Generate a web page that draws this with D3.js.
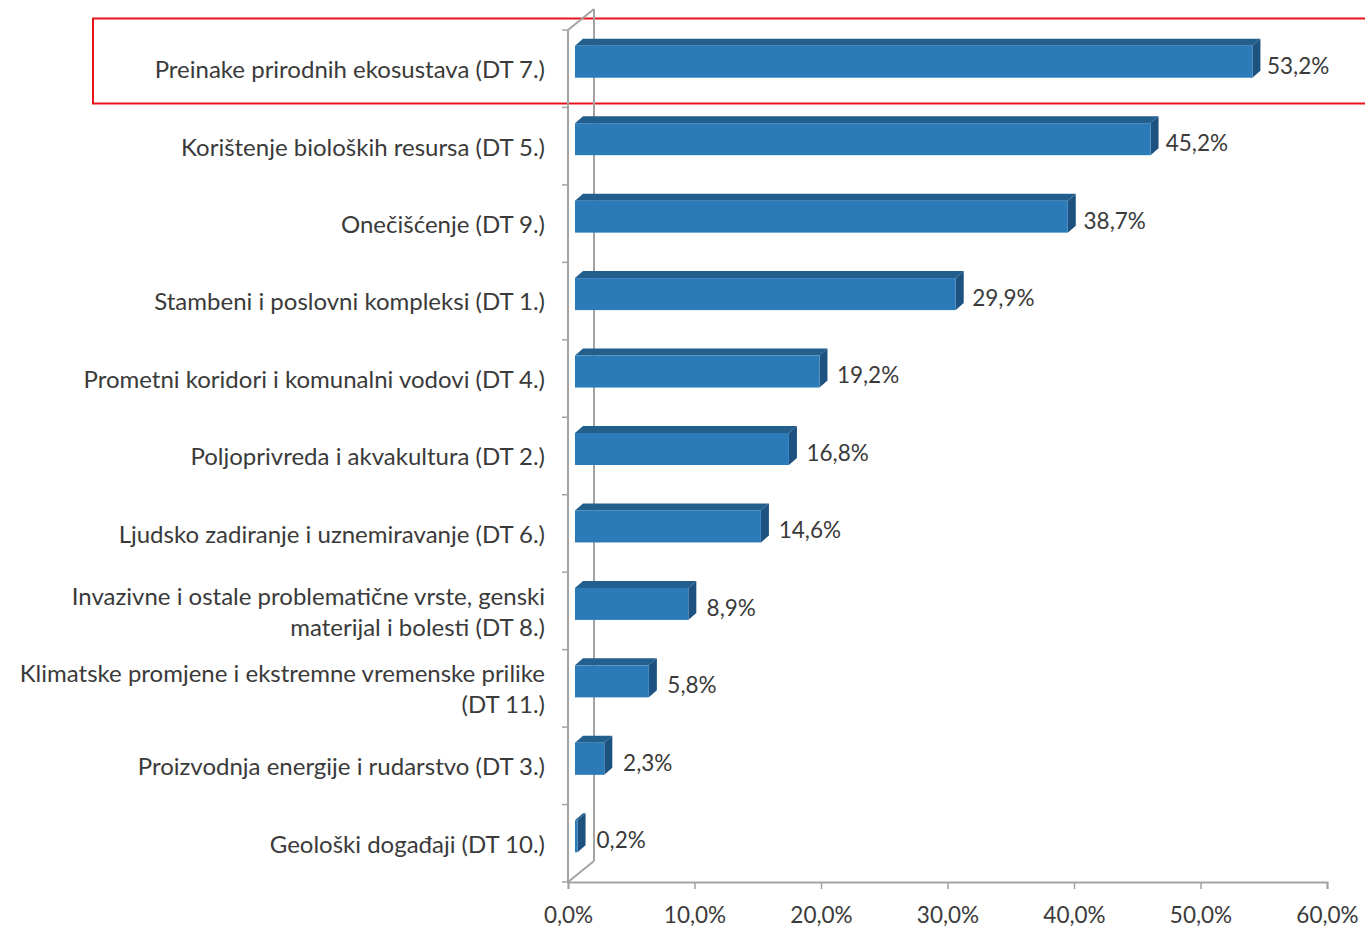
<!DOCTYPE html>
<html>
<head>
<meta charset="utf-8">
<script src="https://cdn.jsdelivr.net/npm/d3@7/dist/d3.min.js"></script>
<style>
  html, body { margin: 0; padding: 0; background: #fff; }
  svg { display: block; }
  text { font-family: Lato, "Open Sans", sans-serif; fill: #3a3a3a; }
</style>
</head>
<body>
<svg id="chart" width="1365" height="929"></svg>
<script>
// ---- data ----
const categories = [
  ["Preinake prirodnih ekosustava (DT 7.)"],
  ["Korištenje bioloških resursa (DT 5.)"],
  ["Onečišćenje (DT 9.)"],
  ["Stambeni i poslovni kompleksi (DT 1.)"],
  ["Prometni koridori i komunalni vodovi (DT 4.)"],
  ["Poljoprivreda i akvakultura (DT 2.)"],
  ["Ljudsko zadiranje i uznemiravanje (DT 6.)"],
  ["Invazivne i ostale problematične vrste, genski", "materijal i bolesti (DT 8.)"],
  ["Klimatske promjene i ekstremne vremenske prilike", "(DT 11.)"],
  ["Proizvodnja energije i rudarstvo (DT 3.)"],
  ["Geološki događaji (DT 10.)"]
];
const values = [53.2, 45.2, 38.7, 29.9, 19.2, 16.8, 14.6, 8.9, 5.8, 2.3, 0.2];
const xTicks = [0, 10, 20, 30, 40, 50, 60];

// ---- layout ----
const svg = d3.select("#chart");
const fmt = v => d3.format(".1f")(v).replace(".", ",") + "%";
const keys = categories.map((c, i) => i);

const x = d3.scaleLinear().domain([0, 60]).range([568, 1327]);
const barX = d3.scaleLinear().domain([0, 60]).range([575, 1339]);
const y = d3.scaleBand().domain(keys).range([30, 882]).padding(0);

const depthX = 26, depthY = -21;   // wall depth
const bdx = 8, bdy = -7;           // bar depth

const axisColor = "#a3a3a3";
const catFont = 24, numFont = 22.5;

// red highlight box
svg.append("rect")
  .attr("x", 93).attr("y", 18.5)
  .attr("width", 1300).attr("height", 85)
  .attr("fill", "none").attr("stroke", "#e8141c").attr("stroke-width", 2);

// back wall edge and diagonals
const g = svg.append("g");
g.append("line")
  .attr("x1", x(0) + depthX).attr("x2", x(0) + depthX)
  .attr("y1", y.range()[0] + depthY).attr("y2", y.range()[1] + depthY)
  .attr("stroke", axisColor).attr("stroke-width", 2);
g.append("line")
  .attr("x1", x(0)).attr("y1", y.range()[0])
  .attr("x2", x(0) + depthX).attr("y2", y.range()[0] + depthY)
  .attr("stroke", axisColor).attr("stroke-width", 2);
g.append("line")
  .attr("x1", x(0)).attr("y1", y.range()[1])
  .attr("x2", x(0) + depthX).attr("y2", y.range()[1] + depthY)
  .attr("stroke", axisColor).attr("stroke-width", 2);

// front vertical axis
g.append("line")
  .attr("x1", x(0)).attr("x2", x(0))
  .attr("y1", y.range()[0]).attr("y2", y.range()[1])
  .attr("stroke", axisColor).attr("stroke-width", 2);
// category ticks at band boundaries
const boundaries = keys.map(k => y(k)).concat([y.range()[1]]);
g.selectAll(".ctick").data(boundaries).enter().append("line")
  .attr("x1", x(0) - 6).attr("x2", x(0))
  .attr("y1", d => d).attr("y2", d => d)
  .attr("stroke", axisColor).attr("stroke-width", 1.5);

// bottom axis
const xAxis = d3.axisBottom(x).tickValues(xTicks).tickSize(7).tickPadding(18)
  .tickFormat(fmt);
const ax = svg.append("g").attr("transform", `translate(0,${y.range()[1]})`).call(xAxis);
ax.select(".domain").attr("stroke", axisColor).attr("stroke-width", 2);
ax.selectAll(".tick line").attr("stroke", axisColor).attr("stroke-width", 1.5);
ax.selectAll(".tick text").attr("font-size", numFont).attr("fill", "#3a3a3a")
  .style("font-family", "Lato, 'Open Sans', sans-serif");

// bars
const bars = svg.append("g").selectAll("g.bar").data(values).enter().append("g");
bars.each(function(v, i) {
  const c = y(i) + y.bandwidth() / 2;
  const x0 = barX(0), x1 = barX(v);
  const y0 = c - 23, y1 = c + 9;
  const sel = d3.select(this);
  sel.append("polygon")
    .attr("points", [[x0, y0], [x0 + bdx, y0 + bdy], [x1 + bdx, y0 + bdy], [x1, y0]].join(" "))
    .attr("fill", "#235f8d");
  sel.append("polygon")
    .attr("points", [[x1, y0], [x1 + bdx, y0 + bdy], [x1 + bdx, y1 + bdy], [x1, y1]].join(" "))
    .attr("fill", "#1d5180");
  sel.append("rect")
    .attr("x", x0).attr("y", y0).attr("width", Math.max(0, x1 - x0)).attr("height", y1 - y0)
    .attr("fill", "#2b7bb9");
  sel.append("text")
    .attr("x", x(v) + 26).attr("y", c - 3)
    .attr("dy", "0.35em")
    .attr("font-size", numFont)
    .text(fmt(v));
});

// category labels
const labels = svg.append("g").selectAll("text").data(categories).enter().append("text")
  .attr("text-anchor", "end")
  .attr("font-size", catFont)
  .attr("transform", (d, i) => `translate(545,${y(i) + y.bandwidth() / 2 + 1})`);
labels.each(function(lines) {
  const t = d3.select(this);
  const lh = 31;
  const off = -(lines.length - 1) * lh / 2;
  lines.forEach((ln, j) => {
    t.append("tspan").attr("x", 0).attr("y", off + j * lh).attr("dy", "0.35em").text(ln);
  });
});
</script>
</body>
</html>
